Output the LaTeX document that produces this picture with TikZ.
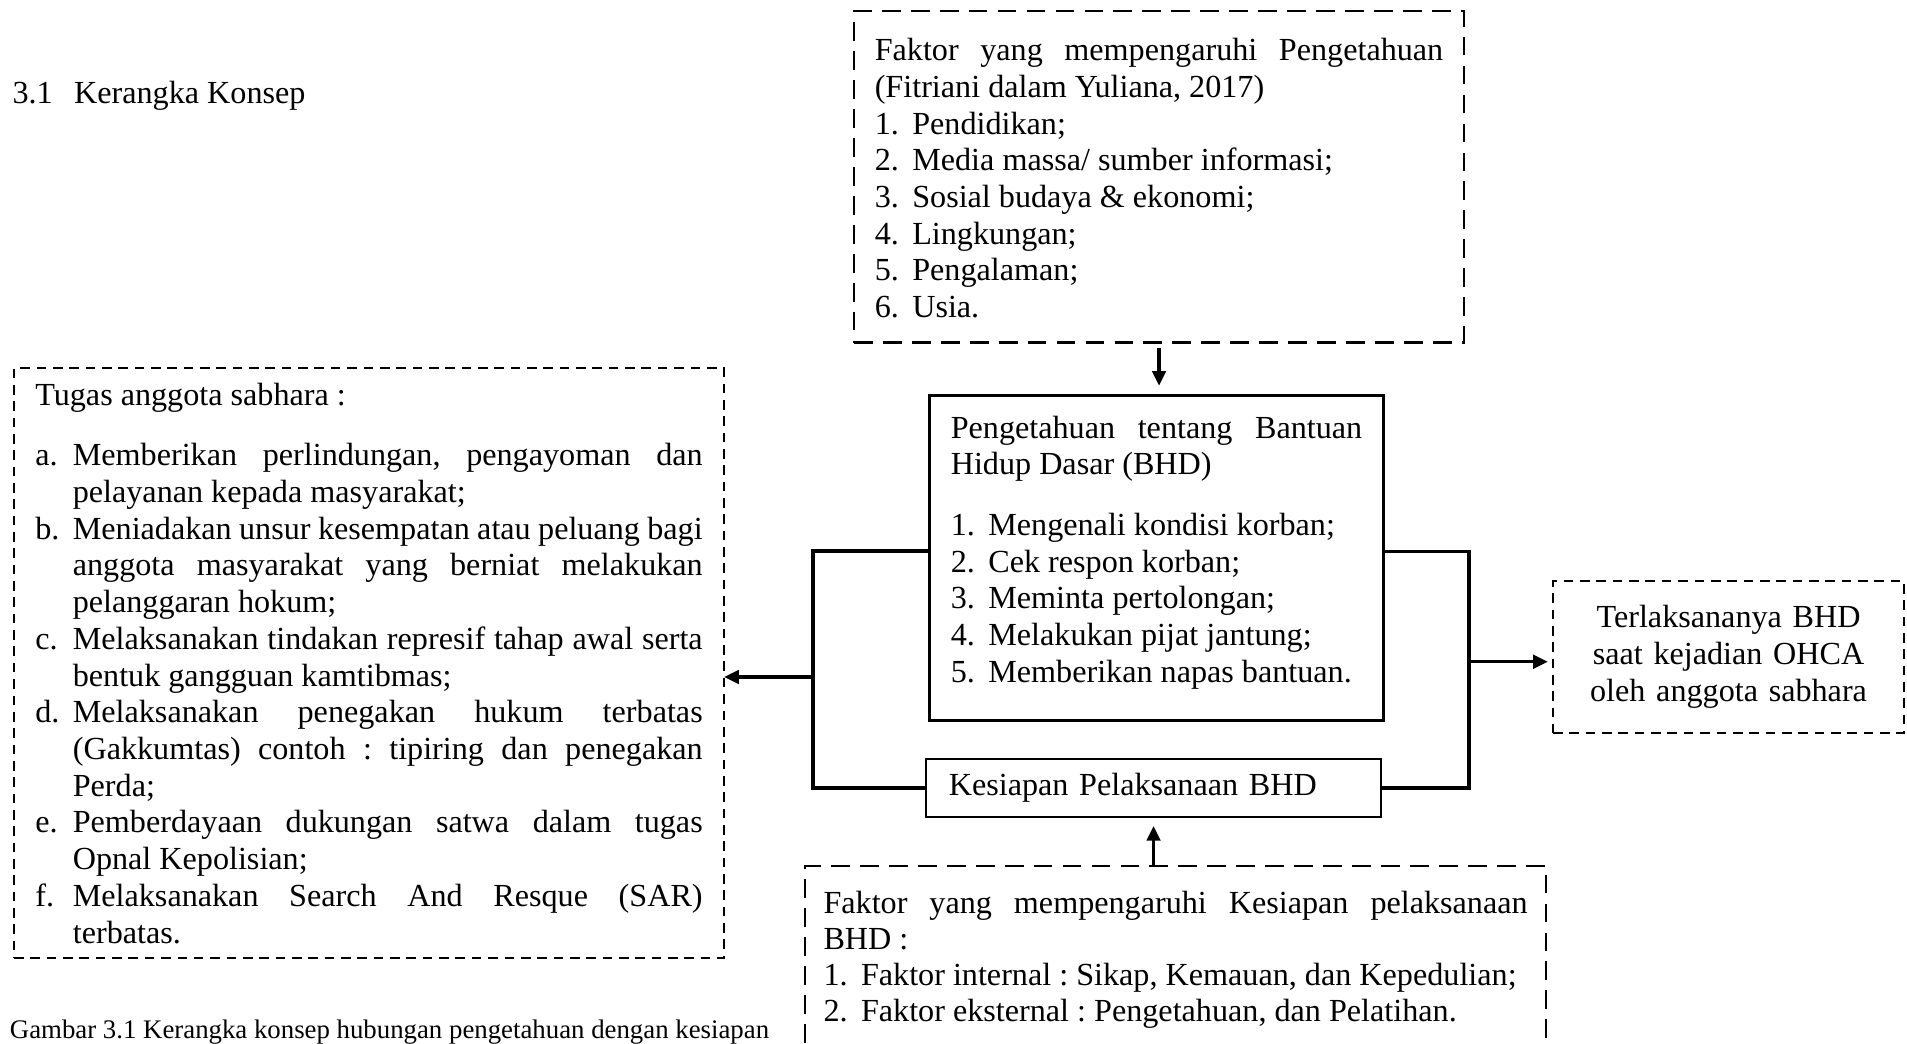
\documentclass[tikz,border=0pt]{standalone}
\usepackage{fontspec}
\setmainfont{Liberation Serif}
\usetikzlibrary{arrows.meta}
\tolerance=9999
\frenchspacing

\newcommand{\butir}[2]{\par\hangindent=14pt\hangafter=1\noindent\makebox[14pt][l]{#1}#2}

\begin{document}
\begin{tikzpicture}[x=0.3731pt, y=-0.3731pt,
    kotak/.style={anchor=north west, outer sep=0pt, inner ysep=0pt,
        font=\fontsize{12}{13.7}\selectfont, align=justify},
    putuspanjang/.style={draw, line width=1pt, dash pattern=on 7pt off 3.8pt},
    putuspendek/.style={draw, line width=0.75pt, dash pattern=on 3.6pt off 2.5pt},
    padat/.style={draw, line width=0.9pt},
    garis/.style={line width=1.25pt},
    panah/.style={line width=1.25pt, -{Triangle[length=5.5pt, width=5pt]}}]

\useasboundingbox (0,0) rectangle (1907,1044);
\clip (0,0) rectangle (1907,1044);

%%   kw   (name)   (x, y)   {text}
\node[anchor=base west, inner sep=0pt, font=\fontsize{12}{13.7}\selectfont] (judul) at (12,103.5)
    {3.1\hspace{8pt}Kerangka Konsep};

\node[kotak, putuspanjang, text width=212.1pt, inner xsep=7.75pt, inner ysep=10.2pt] (fp) at (854,11)
    {Faktor yang mempengaruhi Pengetahuan\linebreak (Fitriani dalam Yuliana, 2017)
     \butir{1.}{Pendidikan;}
     \butir{2.}{Media massa/ sumber informasi;}
     \butir{3.}{Sosial budaya \& ekonomi;}
     \butir{4.}{Lingkungan;}
     \butir{5.}{Pengalaman;}
     \butir{6.}{Usia.}
     \par\kern-1pt};

\node[kotak, padat, text width=153.5pt, inner xsep=7.95pt, inner ysep=7.5pt] (bhd) at (929.5,395.7)
    {Pengetahuan tentang Bantuan\linebreak Hidup Dasar (BHD)\par\vspace{8.9pt}
     \butir{1.}{Mengenali kondisi korban;}
     \butir{2.}{Cek respon korban;}
     \butir{3.}{Meminta pertolongan;}
     \butir{4.}{Melakukan pijat jantung;}
     \butir{5.}{Memberikan napas bantuan.}
     \par\kern4.2pt};

\node[kotak, padat, text width=152.8pt, inner xsep=8.5pt, minimum height=21.6pt, align=left] (siap) at (926,759)
    {Kesiapan Pelaksanaan BHD};

\node[kotak, putuspendek, text width=118pt, inner xsep=6.5pt, minimum height=56.7pt, align=center] (hasil) at (1553,581)
    {Terlaksananya BHD\\ saat kejadian OHCA\\ oleh anggota sabhara};

\node[kotak, putuspendek, text width=249pt, inner xsep=7.95pt, inner ysep=5.55pt] (tugas) at (14,368)
    {Tugas anggota sabhara :\par\vspace{8.9pt}
     \butir{a.}{Memberikan perlindungan, pengayoman dan\linebreak pelayanan kepada masyarakat;}
     \butir{b.}{Meniadakan unsur kesempatan atau peluang bagi\linebreak anggota masyarakat yang berniat melakukan\linebreak pelanggaran hokum;}
     \butir{c.}{Melaksanakan tindakan represif tahap awal serta\linebreak bentuk gangguan kamtibmas;}
     \butir{d.}{Melaksanakan penegakan hukum terbatas\linebreak (Gakkumtas) contoh : tipiring dan penegakan\linebreak Perda;}
     \butir{e.}{Pemberdayaan dukungan satwa dalam tugas\linebreak Opnal Kepolisian;}
     \butir{f.}{Melaksanakan Search And Resque (SAR)\linebreak terbatas.}
     \par};

\node[kotak, putuspanjang, text width=262.7pt, inner xsep=6.9pt, inner ysep=9.5pt,
      font=\fontsize{12}{13.4}\selectfont] (fs) at (805,866)
    {Faktor yang mempengaruhi Kesiapan pelaksanaan\linebreak BHD~:
     \butir{1.}{Faktor internal : Sikap, Kemauan, dan Kepedulian;}
     \butir{2.}{Faktor eksternal : Pengetahuan, dan Pelatihan.}
     \par\kern20pt};

\node[anchor=base west, inner sep=0pt, font=\fontsize{10}{12}\selectfont] (ket) at (9.4,1038)
    {Gambar 3.1 Kerangka konsep hubungan pengetahuan dengan kesiapan};

% connectors
\coordinate (kiri) at (813,677);
\coordinate (kanan) at (1469,661.7);

\draw[garis] ([yshift=2.7pt]bhd.west) -| (kiri) |- (siap.west);
\draw[garis] ([yshift=2.5pt]bhd.east) -| (kanan) |- (siap.east);
\draw[panah] (kiri) -- (kiri -| tugas.east);
\draw[panah, shorten >=1.9pt] (kanan) -- (kanan -| hasil.west);
\draw[panah, shorten <=2pt, shorten >=3.7pt] (fp.south) -- (fp.south |- bhd.north);
\draw[panah, shorten >=3.4pt] (siap.south |- fs.north) -- (siap.south);
\end{tikzpicture}
\end{document}
